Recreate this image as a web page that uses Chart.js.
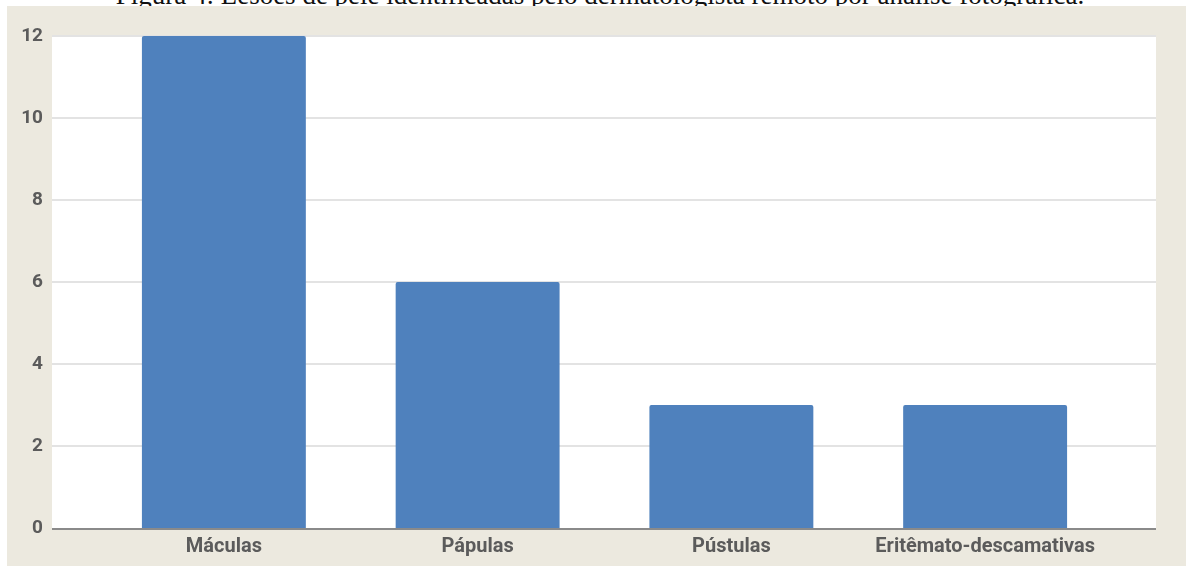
<!DOCTYPE html>
<html>
<head>
<meta charset="utf-8">
<script src="https://cdn.jsdelivr.net/npm/chart.js@4.4.1/dist/chart.umd.min.js"></script>
<style>
  html, body { margin:0; padding:0; background:#ffffff; width:1186px; height:567px; overflow:hidden; position:relative; }
  #title { position:absolute; left:0; top:-18px; width:1200px; text-align:center; font-family:"Liberation Serif","Times New Roman",serif; font-size:27px; line-height:27px; color:#111; white-space:nowrap; z-index:1; }
  #panel { position:absolute; left:7px; top:6px; width:1179px; height:560px; background:#ECE9DF; z-index:2; }
  canvas { display:block; }
</style>
</head>
<body>
<div id="title">Figura 4: Lesões de pele identificadas pelo dermatologista remoto por análise fotográfica.</div>
<div id="panel"><canvas id="c" width="1179" height="560"></canvas></div>
<script>
const categories = ["Máculas", "Pápulas", "Pústulas", "Eritêmato-descamativas"];
const values = [12, 6, 3, 3];
const yTicks = [0, 2, 4, 6, 8, 10, 12];

const extendLeft = 45, extendRight = 44;

const backdrop = {
  id: 'backdrop',
  beforeDatasetsDraw(chart) {
    const ctx = chart.ctx, a = chart.chartArea, y = chart.scales.y;
    const L = a.left - extendLeft, R = a.right + extendRight;
    ctx.save();
    ctx.fillStyle = '#ffffff';
    ctx.fillRect(L, a.top - 1, R - L, a.bottom - a.top + 1);
    ctx.strokeStyle = '#e3e3e3';
    ctx.lineWidth = 2;
    yTicks.forEach(v => {
      if (v === 0) return;
      const py = Math.round(y.getPixelForValue(v));
      ctx.beginPath(); ctx.moveTo(L, py); ctx.lineTo(R, py); ctx.stroke();
    });
    ctx.restore();
  },
  afterDatasetsDraw(chart) {
    const ctx = chart.ctx, a = chart.chartArea, y = chart.scales.y;
    const L = a.left - extendLeft, R = a.right + extendRight;
    const py = y.getPixelForValue(0);
    ctx.save();
    ctx.strokeStyle = '#8a8a8a';
    ctx.lineWidth = 2;
    ctx.beginPath(); ctx.moveTo(L, py + 1); ctx.lineTo(R, py + 1); ctx.stroke();
    ctx.restore();
  }
};

new Chart(document.getElementById('c'), {
  type: 'bar',
  data: {
    labels: categories,
    datasets: [{
      data: values,
      backgroundColor: '#4F81BD',
      borderWidth: 0,
      borderRadius: { topLeft: 2, topRight: 2 },
      borderSkipped: 'bottom',
      categoryPercentage: 1,
      barPercentage: 0.646
    }]
  },
  options: {
    responsive: false,
    animation: false,
    layout: { padding: { left: 0, right: 74, top: 30, bottom: 0 } },
    plugins: { legend: { display: false }, tooltip: { enabled: false }, title: { display: false } },
    scales: {
      x: {
        grid: { display: false, drawTicks: false },
        border: { display: false },
        ticks: { color: '#5b5b5b', font: { family: 'Roboto', size: 20, weight: 'bold' }, padding: 7, maxRotation: 0 },
        afterFit(s) { s.height = 38; s.paddingLeft = 0; s.paddingRight = 0; }
      },
      y: {
        min: 0, max: 12,
        grid: { display: false, drawTicks: false },
        border: { display: false },
        afterBuildTicks(s) { s.ticks = yTicks.map(v => ({ value: v })); },
        ticks: { color: '#5b5b5b', font: { family: 'Roboto', size: 19, weight: 'bold' }, padding: 54 },
        afterFit(s) { s.width = 90; s.paddingTop = 0; s.paddingBottom = 0; }
      }
    }
  },
  plugins: [backdrop]
});
</script>
</body>
</html>
